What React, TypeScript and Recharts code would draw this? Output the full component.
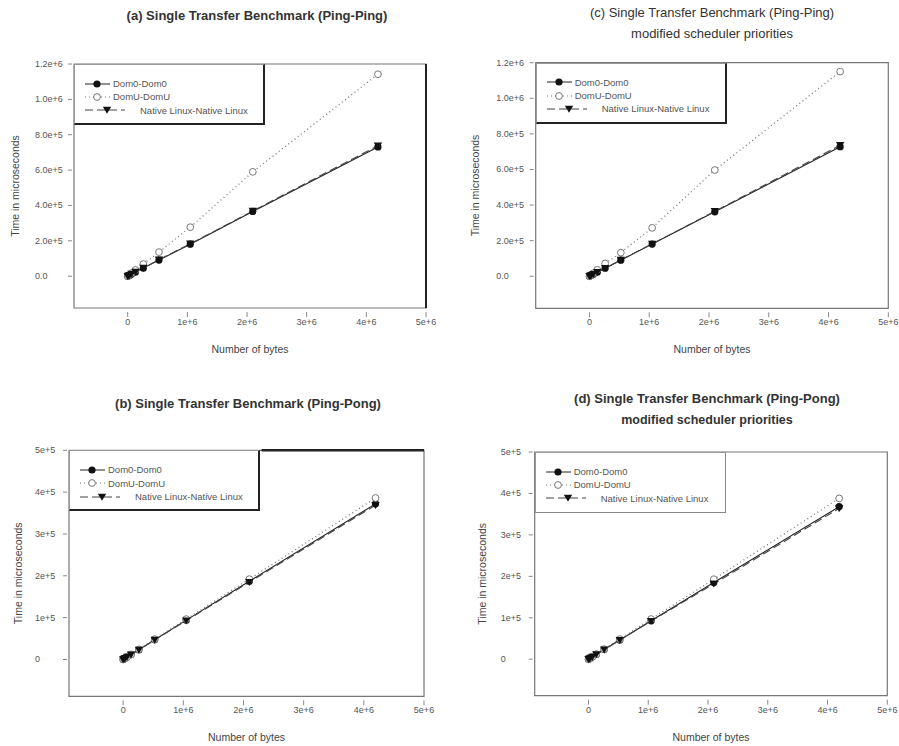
import React from "react";
import { LineChart, Line, XAxis, YAxis, Legend, ReferenceArea, ReferenceLine } from "recharts";

// message sizes in bytes (shared by all four benchmarks)
const bytes = [0, 16384, 32768, 65536, 131072, 262144, 524288, 1048576, 2097152, 4194304];

// (a) ping-ping
const pingPingDom0 = [60, 3000, 5900, 11700, 23000, 45500, 91000, 181000, 366000, 731000];
const pingPingDomU = [90, 4400, 8800, 17600, 35000, 68500, 136000, 277000, 590000, 1142000];
const pingPingNative = [50, 3000, 6000, 11900, 23500, 46500, 93000, 183000, 369000, 738000];

// (c) ping-ping, modified scheduler priorities
const pingPingModDom0 = [60, 3000, 5900, 11600, 23000, 45500, 90500, 181000, 362000, 728000];
const pingPingModDomU = [90, 4300, 8600, 17200, 36000, 72000, 133000, 272000, 597000, 1150000];
const pingPingModNative = [50, 3000, 6000, 11800, 23500, 46000, 92000, 182000, 365000, 736000];

// (b) ping-pong
const pingPongDom0 = [30, 1500, 2950, 5900, 11700, 23500, 47000, 94000, 187000, 372000];
const pingPongDomU = [40, 1550, 3050, 6100, 12100, 24200, 48500, 96500, 192000, 386000];
const pingPongNative = [25, 1450, 2900, 5800, 11500, 23000, 46500, 93000, 185000, 369000];

// (d) ping-pong, modified scheduler priorities
const pingPongModDom0 = [30, 1450, 2900, 5800, 11600, 23300, 46500, 93000, 185000, 368000];
const pingPongModDomU = [40, 1550, 3050, 6100, 12200, 24400, 48500, 97000, 193000, 388000];
const pingPongModNative = [25, 1450, 2850, 5750, 11500, 23000, 46000, 92000, 182000, 364000];

const byteTicks = [0, 1e6, 2e6, 3e6, 4e6, 5e6];
const byteTickLabels = ["0", "1e+6", "2e+6", "3e+6", "4e+6", "5e+6"];
const pingPingTicks = [0, 2e5, 4e5, 6e5, 8e5, 1e6, 1.2e6];
const pingPingTickLabels = ["0.0", "2.0e+5", "4.0e+5", "6.0e+5", "8.0e+5", "1.0e+6", "1.2e+6"];
const pingPongTicks = [0, 1e5, 2e5, 3e5, 4e5, 5e5];
const pingPongTickLabels = ["0", "1e+5", "2e+5", "3e+5", "4e+5", "5e+5"];

const seriesNames = ["Dom0-Dom0", "DomU-DomU", "Native Linux-Native Linux"];

const FONT = '"Liberation Sans", Arial, sans-serif';
const byteDomain: [number, number] = [-0.9e6, 5e6];

const SERIES = [
  { key: "dom0", name: seriesNames[0], stroke: "#222", dash: undefined, width: 1.1, marker: "dot" },
  { key: "domU", name: seriesNames[1], stroke: "#777", dash: "1 3", width: 1.3, marker: "ring" },
  { key: "native", name: seriesNames[2], stroke: "#444", dash: "8 4", width: 1.1, marker: "tri" },
];

function Marker({ type, cx, cy }: { type: string; cx: number; cy: number }) {
  if (type === "dot") return <circle cx={cx} cy={cy} r={3.6} fill="#111" />;
  if (type === "ring") return <circle cx={cx} cy={cy} r={3.4} fill="#fff" stroke="#777" strokeWidth={1} />;
  return <path d={`M${cx - 4.2},${cy - 3.2}L${cx + 4.2},${cy - 3.2}L${cx},${cy + 3.8}Z`} fill="#111" />;
}

function LegendBox({ heavy }: { heavy: boolean }) {
  const edge = heavy ? "2px solid #222" : "1px solid #888";
  return (
    <div
      style={{
        width: 191, height: 61, boxSizing: "border-box", background: "#fff", position: "relative",
        border: "1px solid #999", borderRight: edge, borderBottom: edge, fontFamily: FONT,
      }}
    >
      {SERIES.map((s, i) => {
        const iconW = s.marker === "tri" ? 40 : 25;
        const mx = s.marker === "tri" ? 22 : 12;
        return (
          <div key={s.key} style={{ position: "absolute", left: 10, top: 12.5 + i * 13.4, height: 12, display: "flex", alignItems: "center" }}>
            <svg width={iconW} height={12} style={{ display: "block" }}>
              <line x1={0} y1={6} x2={iconW} y2={6} stroke={s.stroke} strokeWidth={1} strokeDasharray={s.dash} />
              <Marker type={s.marker} cx={mx} cy={6} />
            </svg>
            <span style={{ marginLeft: s.marker === "tri" ? 15 : 3, fontSize: 9.5, color: "#555", whiteSpace: "nowrap" }}>{s.name}</span>
          </div>
        );
      })}
    </div>
  );
}

type Panel = {
  id: string;
  title: string[];
  titleX: number;
  titleY: number[];
  titleBold: boolean;
  left: number;
  top: number;
  width: number;
  margin: { top: number; right: number; bottom: number; left: number };
  yAxisWidth: number;
  yDomain: [number, number];
  yTicks: number[];
  yTickLabels: string[];
  yLabelDx: number;
  heavyLegend: boolean;
  heavyRight: boolean;
  heavyTop: boolean;
  dom0: number[];
  domU: number[];
  native: number[];
};

const PANELS: Panel[] = [
  {
    id: "a", title: ["(a) Single Transfer Benchmark (Ping-Ping)"], titleX: 257, titleY: [15], titleBold: true,
    left: 0, top: 0, width: 449, margin: { top: 64, right: 23, bottom: 20, left: 10 }, yAxisWidth: 64,
    yDomain: [-1.8e5, 1.2e6], yTicks: pingPingTicks, yTickLabels: pingPingTickLabels, yLabelDx: 39, heavyLegend: true,
    heavyRight: true, heavyTop: false,
    dom0: pingPingDom0, domU: pingPingDomU, native: pingPingNative,
  },
  {
    id: "c", title: ["(c) Single Transfer Benchmark (Ping-Ping)", "modified scheduler priorities"], titleX: 263, titleY: [12, 33], titleBold: false,
    left: 449, top: 0, width: 450, margin: { top: 62.7, right: 10.7, bottom: 19.7, left: 21.7 }, yAxisWidth: 65,
    yDomain: [-1.8e5, 1.2e6], yTicks: pingPingTicks, yTickLabels: pingPingTickLabels, yLabelDx: 39.5, heavyLegend: true,
    heavyRight: false, heavyTop: false,
    dom0: pingPingModDom0, domU: pingPingModDomU, native: pingPingModNative,
  },
  {
    id: "b", title: ["(b) Single Transfer Benchmark (Ping-Pong)"], titleX: 248, titleY: [30], titleBold: true,
    left: 0, top: 373, width: 449, margin: { top: 77.3, right: 25, bottom: 4.7, left: 13 }, yAxisWidth: 56,
    yDomain: [-0.88e5, 5e5], yTicks: pingPongTicks, yTickLabels: pingPongTickLabels, yLabelDx: 34, heavyLegend: true,
    heavyRight: false, heavyTop: true,
    dom0: pingPongDom0, domU: pingPongDomU, native: pingPongNative,
  },
  {
    id: "d", title: ["(d) Single Transfer Benchmark (Ping-Pong)", "modified scheduler priorities"], titleX: 258, titleY: [25, 46.7], titleBold: true,
    left: 449, top: 373, width: 450, margin: { top: 79, right: 11.7, bottom: 5.3, left: 28 }, yAxisWidth: 57.7,
    yDomain: [-0.88e5, 5e5], yTicks: pingPongTicks, yTickLabels: pingPongTickLabels, yLabelDx: 34, heavyLegend: false,
    heavyRight: false, heavyTop: false,
    dom0: pingPongModDom0, domU: pingPongModDomU, native: pingPongModNative,
  },
];

function labelFor(v: number, ticks: number[], labels: string[]) {
  const i = ticks.findIndex((t) => Math.abs(t - v) < 1);
  return i >= 0 ? labels[i] : String(v);
}

function BenchmarkPanel({ p }: { p: Panel }) {
  const rows = bytes.map((x, i) => ({ x, dom0: p.dom0[i], domU: p.domU[i], native: p.native[i] }));
  const height = 373;
  return (
    <div style={{ position: "absolute", left: p.left, top: p.top, width: p.width, height, fontFamily: FONT }}>
      {p.title.map((t, i) => (
        <div
          key={i}
          style={{
            position: "absolute", left: p.titleX, top: p.titleY[i], transform: "translate(-50%, -50%)",
            whiteSpace: "nowrap", fontSize: i === 0 ? 13 : p.titleBold ? 12.5 : 13,
            fontWeight: p.titleBold ? "bold" : "normal", color: "#333",
          }}
        >
          {t}
        </div>
      ))}
      <LineChart width={p.width} height={height} data={rows} margin={p.margin}>
        <ReferenceArea
          x1={byteDomain[0]} x2={byteDomain[1]} y1={p.yDomain[0]} y2={p.yDomain[1]}
          fill="none" stroke="#777" strokeWidth={1.2} ifOverflow="visible"
        />
        {p.heavyRight && <ReferenceLine x={byteDomain[1]} stroke="#222" strokeWidth={2} ifOverflow="visible" />}
        {p.heavyTop && (
          <ReferenceLine
            segment={[{ x: 2.3e6, y: p.yDomain[1] }, { x: byteDomain[1], y: p.yDomain[1] }]}
            stroke="#222" strokeWidth={2.5} ifOverflow="visible"
          />
        )}
        <XAxis
          type="number" dataKey="x" domain={byteDomain} allowDataOverflow ticks={byteTicks} interval={0}
          height={45} axisLine={false} tickLine={false} tickSize={0} tickMargin={0}
          tick={(t: any) => (
            <g key={t.index}>
              <line x1={t.x} y1={t.y + 4} x2={t.x} y2={t.y + 9} stroke="#888" />
              <text x={t.x} y={t.y + 17} textAnchor="middle" fontSize={9} fill="#555">
                {labelFor(t.payload.value, byteTicks, byteTickLabels)}
              </text>
            </g>
          )}
          label={{ value: "Number of bytes", position: "insideBottom", offset: 0, fontSize: 10.5, fill: "#444" }}
        />
        <YAxis
          type="number" domain={p.yDomain} allowDataOverflow ticks={p.yTicks} interval={0} width={p.yAxisWidth}
          axisLine={false} tickLine={false} tickSize={0} tickMargin={0}
          tick={(t: any) => (
            <g key={t.index}>
              <line x1={t.x - 6} y1={t.y} x2={t.x - 2} y2={t.y} stroke="#888" />
              <text x={t.x - p.yLabelDx} y={t.y + 3} textAnchor="start" fontSize={9} fill="#555">
                {labelFor(t.payload.value, p.yTicks, p.yTickLabels)}
              </text>
            </g>
          )}
          label={{
            value: "Time in microseconds", angle: -90, position: "insideLeft", fontSize: 10.5, fill: "#444",
            style: { textAnchor: "middle" },
          }}
        />
        {SERIES.map((s) => (
          <Line
            key={s.key}
            dataKey={s.key}
            name={s.name}
            type="linear"
            stroke={s.stroke}
            strokeWidth={s.width}
            strokeDasharray={s.dash}
            isAnimationActive={false}
            dot={(d: any) => <Marker key={`${s.key}-${d.index}`} type={s.marker} cx={d.cx} cy={d.cy} />}
            activeDot={false}
          />
        ))}
        <Legend
          layout="horizontal"
          verticalAlign="middle"
          align="center"
          content={() => <LegendBox heavy={p.heavyLegend} />}
          wrapperStyle={{ left: p.margin.left + p.yAxisWidth, top: p.margin.top, width: "auto" }}
        />
      </LineChart>
    </div>
  );
}

export default function App() {
  return (
    <div style={{ position: "absolute", left: 0, top: 0, width: 899, height: 746, background: "#fff" }}>
      {PANELS.map((p) => (
        <BenchmarkPanel key={p.id} p={p} />
      ))}
    </div>
  );
}
